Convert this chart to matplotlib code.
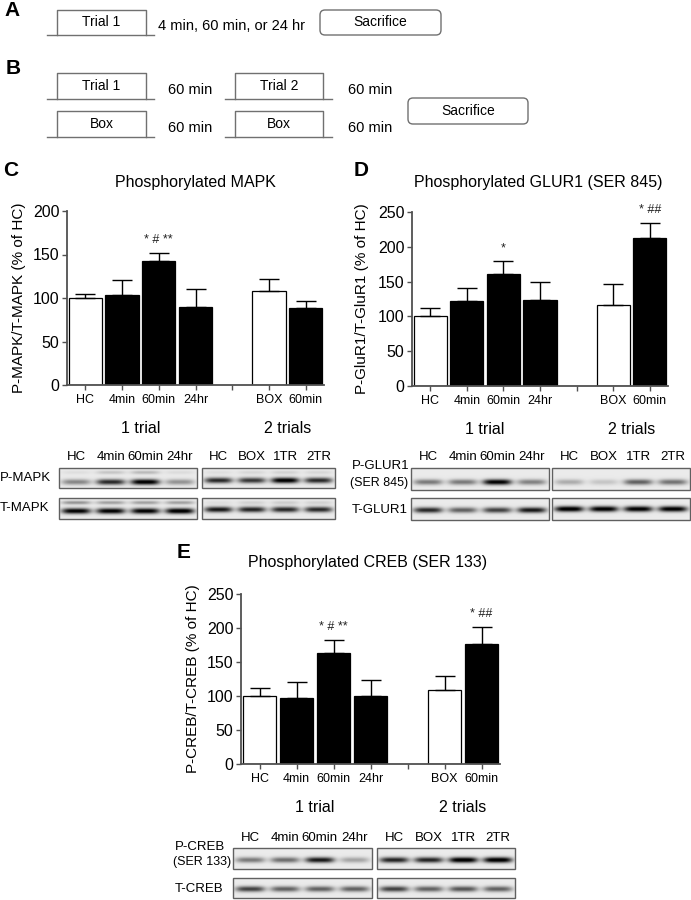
import numpy as np
import matplotlib
matplotlib.use("Agg")
import matplotlib.pyplot as plt
from matplotlib.patches import Rectangle, FancyBboxPatch

plt.rcParams['font.family'] = ['Liberation Sans', 'DejaVu Sans']

# ---------------- data ----------------
bar_labels = ['HC', '4min', '60min', '24hr', '', 'BOX', '60min']
bar_positions = [0, 1, 2, 3, 5, 6]
bar_is_control = [True, False, False, False, True, False]
group_labels = ['1 trial', '2 trials']
group_centers = [1.5, 5.5]

mapk_values = [100, 103, 142, 90, 108, 89]
mapk_errors = [5, 18, 10, 20, 14, 8]
mapk_annot = {2: '* # **'}

glur_values = [100, 122, 161, 124, 117, 212]
glur_errors = [12, 19, 18, 25, 30, 22]
glur_annot = {2: '*', 6: '* ##'}

creb_values = [100, 97, 163, 100, 109, 177]
creb_errors = [12, 24, 20, 23, 21, 25]
creb_annot = {2: '* # **', 6: '* ##'}

lanes_1 = ['HC', '4min', '60min', '24hr']
lanes_2 = ['HC', 'BOX', '1TR', '2TR']

# blot band intensities (0 = blank, 1 = black)
pmapk_1 = [0.40, 0.78, 0.98, 0.35]
pmapk_1_upper = [0.05, 0.15, 0.20, 0.06]
pmapk_2 = [0.78, 0.72, 0.98, 0.78]
pmapk_2_upper = [0.05, 0.08, 0.10, 0.08]
tmapk_1 = [0.95, 0.95, 0.95, 1.00]
tmapk_1_upper = [0.35, 0.30, 0.30, 0.30]
tmapk_2 = [0.85, 0.80, 0.78, 0.78]
tmapk_2_upper = [0.05, 0.10, 0.12, 0.10]
pglur_1 = [0.45, 0.45, 0.95, 0.42]
pglur_2 = [0.25, 0.15, 0.55, 0.48]
tglur_1 = [0.78, 0.55, 0.68, 0.85]
tglur_2 = [1.00, 0.97, 0.97, 0.97]
pcreb_1 = [0.45, 0.50, 0.85, 0.28]
pcreb_2 = [0.80, 0.80, 1.00, 1.00]
tcreb_1 = [0.68, 0.55, 0.55, 0.55]
tcreb_2 = [0.68, 0.55, 0.60, 0.55]

# ---------------- figure ----------------
W, H = 691, 900
fig = plt.figure(figsize=(W / 100, H / 100), dpi=100)
bg = fig.add_axes([0, 0, 1, 1])
bg.set_xlim(0, W)
bg.set_ylim(H, 0)
bg.axis('off')

LINE = '#707070'


def trial_box(x0, x1, ytop, ybot, lx0, lx1, text):
    bg.plot([x0, x0, x1, x1], [ybot, ytop, ytop, ybot], color=LINE, lw=1)
    bg.plot([lx0, lx1], [ybot, ybot], color=LINE, lw=1)
    bg.text((x0 + x1) / 2, (ytop + ybot) / 2, text, ha='center', va='center', fontsize=10)


def sacrifice_box(x0, x1, ytop, ybot):
    p = FancyBboxPatch((x0, ytop), x1 - x0, ybot - ytop,
                       boxstyle='round,pad=0,rounding_size=5',
                       fill=False, edgecolor=LINE, lw=1)
    bg.add_patch(p)
    bg.text((x0 + x1) / 2, (ytop + ybot) / 2, 'Sacrifice', ha='center', va='center', fontsize=10)


def letter(x, y, s):
    bg.text(x, y, s, ha='center', va='center', fontsize=15, fontweight='bold')


# Panel A
letter(12, 11, 'A')
trial_box(57, 146, 10, 35, 47, 154, 'Trial 1')
bg.text(158, 26, '4 min, 60 min, or 24 hr', ha='left', va='center', fontsize=10.5)
sacrifice_box(320, 441, 10, 35)

# Panel B
letter(13, 68, 'B')
trial_box(57, 146, 73, 99, 47, 154, 'Trial 1')
bg.text(168, 90, '60 min', ha='left', va='center', fontsize=10.5)
trial_box(235, 323, 73, 99, 225, 332, 'Trial 2')
bg.text(348, 90, '60 min', ha='left', va='center', fontsize=10.5)
trial_box(57, 146, 111, 137, 47, 154, 'Box')
bg.text(168, 128, '60 min', ha='left', va='center', fontsize=10.5)
trial_box(235, 323, 111, 137, 225, 332, 'Box')
bg.text(348, 128, '60 min', ha='left', va='center', fontsize=10.5)
sacrifice_box(408, 528, 98, 124)


# ---------------- bar panels ----------------
def px_axes(left, top, right, bottom):
    ax = fig.add_axes([left / W, 1 - bottom / H, (right - left) / W, (bottom - top) / H])
    ax.patch.set_visible(False)
    return ax


def bar_panel(ax, values, errors, annots, ymax, ystep):
    fills = ['white' if c else 'black' for c in bar_is_control]
    ax.bar(bar_positions, values, width=0.91, color=fills, edgecolor='black', linewidth=0.9, zorder=2)
    ax.errorbar(bar_positions, values, yerr=[[0] * len(errors), errors], fmt='none',
                ecolor='black', elinewidth=1.0, capsize=7.5, capthick=1.0, zorder=3)
    ax.set_xlim(-0.5, 6.5)
    ax.set_ylim(0, ymax)
    ax.set_yticks(np.arange(0, ymax + 1, ystep))
    ax.set_xticks(range(len(bar_labels)))
    ax.set_xticklabels(bar_labels, fontsize=9)
    for lab in ax.get_yticklabels():
        lab.set_fontsize(11.5)
    for s in ['top', 'right']:
        ax.spines[s].set_visible(False)
    for s in ['left', 'bottom']:
        ax.spines[s].set_color('#505050')
        ax.spines[s].set_linewidth(1.3)
    ax.tick_params(axis='both', direction='out', length=3.5, width=1, color='#505050')
    ax.tick_params(axis='y', pad=2)
    ax.tick_params(axis='x', pad=3)
    for i, pos in enumerate(bar_positions):
        if pos in annots:
            ax.annotate(annots[pos], xy=(pos, values[i] + errors[i]), xytext=(0, 5),
                        textcoords='offset points', ha='center', va='bottom', fontsize=9,
                        color='#222222')
    for gx, gl in zip(group_centers, group_labels):
        ax.annotate(gl, xy=(gx, 0), xycoords=('data', 'axes fraction'), xytext=(0, -31),
                    textcoords='offset points', ha='center', va='center', fontsize=11.5)


axC = px_axes(67, 211, 324, 385)
bar_panel(axC, mapk_values, mapk_errors, mapk_annot, 200, 50)
axD = px_axes(412, 212, 668, 386)
bar_panel(axD, glur_values, glur_errors, glur_annot, 250, 50)
axE = px_axes(241, 594, 500, 764)
bar_panel(axE, creb_values, creb_errors, creb_annot, 250, 50)

letter(11, 170, 'C')
letter(361, 170, 'D')
letter(184, 553, 'E')
bg.text(195, 183, 'Phosphorylated MAPK', ha='center', va='center', fontsize=11.5)
bg.text(538, 183, 'Phosphorylated GLUR1 (SER 845)', ha='center', va='center', fontsize=11.5)
bg.text(368, 562, 'Phosphorylated CREB (SER 133)', ha='center', va='center', fontsize=11.5)
bg.text(19, 298, 'P-MAPK/T-MAPK (% of HC)', rotation=90, ha='center', va='center', fontsize=11)
bg.text(362, 299, 'P-GluR1/T-GluR1 (% of HC)', rotation=90, ha='center', va='center', fontsize=11)
bg.text(193, 679, 'P-CREB/T-CREB (% of HC)', rotation=90, ha='center', va='center', fontsize=11)


# ---------------- blots ----------------
def blot(x0, x1, y0, y1, main, band_frac, upper=None, upper_frac=0.2):
    res = 4
    nx = int((x1 - x0) * res)
    ny = int((y1 - y0) * res)
    xs = (np.arange(nx) + 0.5) / res
    ys = (np.arange(ny) + 0.5) / res
    X, Y = np.meshgrid(xs, ys)
    wlane = (x1 - x0) / 4
    img = np.full((ny, nx), 0.08)
    for k in range(4):
        xc = wlane * (k + 0.5)
        gx = np.exp(-np.abs((X - xc) / (wlane * 0.42)) ** 4)
        yc = band_frac * (y1 - y0)
        gy = np.exp(-((Y - yc) / 2.8) ** 2)
        img += main[k] * gx * gy
        if upper is not None:
            yu = upper_frac * (y1 - y0)
            gyu = np.exp(-((Y - yu) / 1.8) ** 2)
            img += upper[k] * gx * gyu
    img = np.clip(img, 0, 1)
    bg.imshow(img, cmap='gray_r', vmin=0, vmax=1, extent=(x0, x1, y1, y0),
              aspect='auto', interpolation='bilinear', zorder=1)
    bg.add_patch(Rectangle((x0, y0), x1 - x0, y1 - y0, fill=False,
                           edgecolor='#606060', lw=1, zorder=2))


def lane_labels(x0, x1, y, labels):
    wlane = (x1 - x0) / 4
    for k, lab in enumerate(labels):
        bg.text(x0 + wlane * (k + 0.5), y, lab, ha='center', va='center', fontsize=9.5)


# MAPK blots
blot(59, 197, 468, 488, pmapk_1, 0.70, pmapk_1_upper, 0.22)
blot(202, 335, 468, 488, pmapk_2, 0.62, pmapk_2_upper, 0.22)
blot(59, 197, 498, 519, tmapk_1, 0.62, tmapk_1_upper, 0.22)
blot(202, 335, 498, 519, tmapk_2, 0.55, tmapk_2_upper, 0.22)
lane_labels(59, 197, 457, lanes_1)
lane_labels(202, 335, 457, lanes_2)
bg.text(0, 478, 'P-MAPK', ha='left', va='center', fontsize=9.5)
bg.text(0, 508, 'T-MAPK', ha='left', va='center', fontsize=9.5)

# GLUR1 blots
blot(411, 549, 468, 490, pglur_1, 0.64)
blot(552, 690, 468, 490, pglur_2, 0.64)
blot(411, 549, 498, 520, tglur_1, 0.55)
blot(552, 690, 498, 520, tglur_2, 0.50)
lane_labels(411, 549, 457, lanes_1)
lane_labels(552, 690, 457, lanes_2)
bg.text(352, 466, 'P-GLUR1', ha='left', va='center', fontsize=9.5)
bg.text(350, 483, '(SER 845)', ha='left', va='center', fontsize=9)
bg.text(352, 510, 'T-GLUR1', ha='left', va='center', fontsize=9.5)

# CREB blots
blot(233, 372, 848, 869, pcreb_1, 0.57)
blot(377, 515, 848, 869, pcreb_2, 0.57)
blot(233, 372, 878, 898, tcreb_1, 0.55)
blot(377, 515, 878, 898, tcreb_2, 0.55)
lane_labels(233, 372, 838, lanes_1)
lane_labels(377, 515, 838, lanes_2)
bg.text(175, 847, 'P-CREB', ha='left', va='center', fontsize=9.5)
bg.text(173, 862, '(SER 133)', ha='left', va='center', fontsize=9)
bg.text(175, 889, 'T-CREB', ha='left', va='center', fontsize=9.5)

bg.set_xlim(0, W)
bg.set_ylim(H, 0)

fig.savefig('out.png', dpi=100)
